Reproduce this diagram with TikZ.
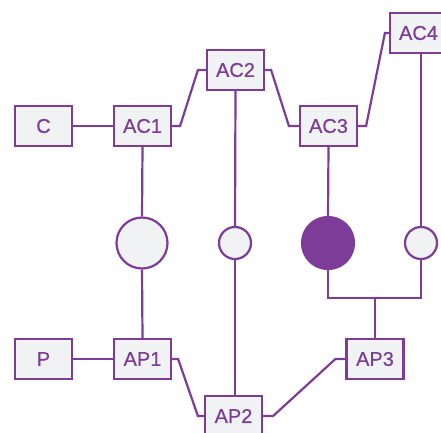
\documentclass[tikz,border=0pt]{standalone}
\usepackage{fontspec}
\setmainfont{Liberation Sans}
\newfontfamily\lab[BoldFont={Liberation Sans}, BoldFeatures={FakeBold=0.6}]{Liberation Sans}
\usetikzlibrary{calc}
\definecolor{pur}{HTML}{7D3C98}
\definecolor{boxfill}{HTML}{F1F2F4}
\tikzset{
  box/.style={draw=pur, line width=2.2pt, fill=boxfill, minimum width=57pt, minimum height=40pt, inner sep=0pt, text=pur, font=\lab\bfseries\fontsize{20}{20}\selectfont},
  bigc/.style={circle, draw=pur, line width=2.2pt, fill=boxfill, minimum size=51pt, inner sep=0pt},
  smallc/.style={circle, draw=pur, line width=2.2pt, fill=boxfill, minimum size=32pt, inner sep=0pt},
  fullc/.style={circle, draw=pur, line width=2.2pt, fill=pur, minimum size=52pt, inner sep=0pt},
  wire/.style={draw=pur, line width=2.2pt, line join=miter}
}
\begin{document}
\begin{tikzpicture}[x=1pt,y=-1pt]
\useasboundingbox (0,0) rectangle (441,432);
\clip (0,0) rectangle (441,432);
% nodes
\node[box] (C) at (43.5,126) {C};
\node[box] (AC1) at (142.5,126) {AC1};
\node[box] (AC2) at (235.5,70) {AC2};
\node[box] (AC3) at (328.5,126) {AC3};
\node[box] (AC4) at (418.5,33) {AC4};
\node[box] (P) at (43.5,359) {P};
\node[box] (AP1) at (142.5,359) {AP1};
\node[box] (AP2) at (233.5,416) {AP2};
\node[box] (AP3) at (375,359) {AP3};
\node[bigc] (c1) at (142,243) {};
\node[smallc] (c2) at (235,243) {};
\node[fullc] (c3) at (328,243) {};
\node[smallc] (c4) at (421,243) {};
\coordinate (j) at (375,298);
% connectors
\draw[wire] (C.east) -- (AC1.west);
\draw[wire] (P.east) -- (AP1.west);
\draw[wire] (AC1.east) -- ++(8,0) -- ($(AC2.west)+(-8,0)$) -- (AC2.west);
\draw[wire] (AC2.east) -- ++(6,0) -- ($(AC3.west)+(-10,0)$) -- (AC3.west);
\draw[wire] (AC3.east) -- ++(8,0) -- ($(AC4.west)+(-4,0)$) -- (AC4.west);
\draw[wire] (AP1.east) -- ++(6,0) -- ($(AP2.west)+(-6,0)$) -- (AP2.west);
\draw[wire] (AP2.east) -- ++(10,0) -- ($(AP3.west)+(-10,0)$) -- (AP3.west);
\draw[wire] (AC1.south) -- (c1.north);
\draw[wire] (c1.south) -- (AP1.north);
\draw[wire] (AC2.south) -- (c2.north);
\draw[wire] (c2.south) -- (c2.south |- AP2.north);
\draw[wire] (AC3.south) -- (c3.north);
\draw[wire] (AC4.south -| c4.north) -- (c4.north);
\draw[wire] (c3.south) -- (c3.south |- j) -- (c4.south |- j) -- (c4.south);
\draw[wire] (j) -- (AP3.north);
\end{tikzpicture}
\end{document}
